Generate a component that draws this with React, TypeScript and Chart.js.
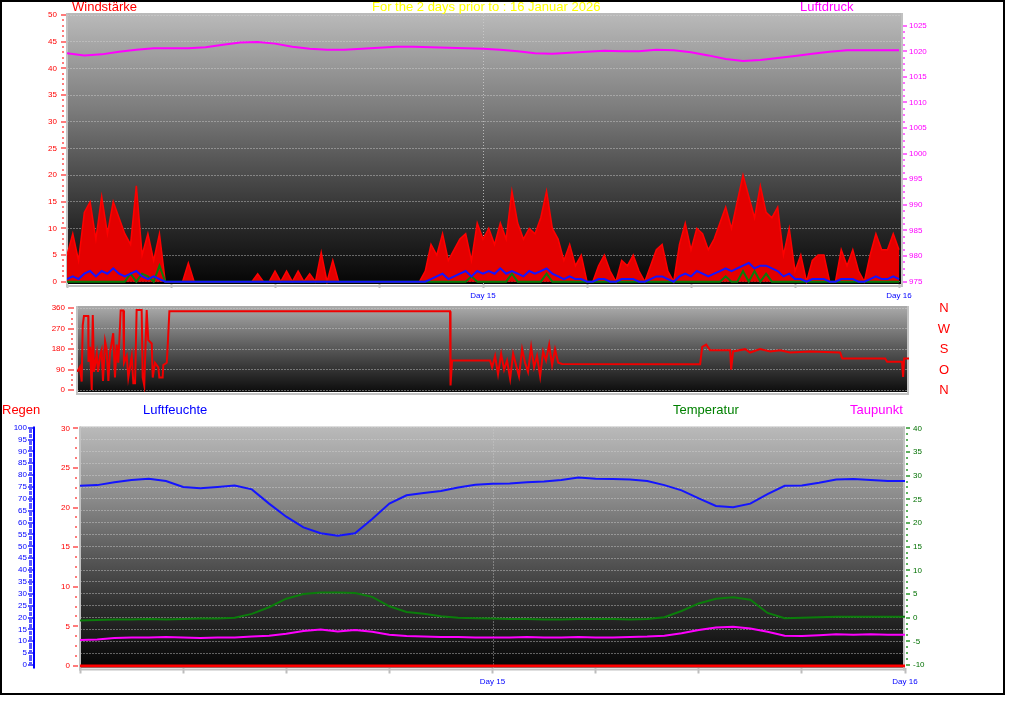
import { useEffect, useRef } from 'react';
import { Chart, registerables } from 'chart.js';

Chart.register(...registerables);

const FONT = 'Arial, "Liberation Sans", sans-serif';

// ---------------- texts ----------------
const titleText = 'For the 2 days prior to : 16 Januar 2026';

// ---------------- axes / ticks ----------------
const xTickHours = [0, 6, 12, 18, 24, 30, 36, 42, 48];
const dayLabelHours = [24, 48];
const dayLabels = ['Day 15', 'Day 16'];
const windTicks = [0, 5, 10, 15, 20, 25, 30, 35, 40, 45, 50];
const pressureTicks = [975, 980, 985, 990, 995, 1000, 1005, 1010, 1015, 1020, 1025];
const directionTicks = [0, 90, 180, 270, 360];
const directionLetters = ['N', 'O', 'S', 'W', 'N'];
const humidityTicks = [0, 5, 10, 15, 20, 25, 30, 35, 40, 45, 50, 55, 60, 65, 70, 75, 80, 85, 90, 95, 100];
const rainTicks = [0, 5, 10, 15, 20, 25, 30];
const temperatureTicks = [-10, -5, 0, 5, 10, 15, 20, 25, 30, 35, 40];

// ---------------- data: top panel ----------------
// hourly air pressure (hPa), hour 0..48
const pressureHpa = [
  1019.6, 1019.2, 1019.4, 1019.9, 1020.3, 1020.6, 1020.6, 1020.6, 1020.8, 1021.3,
  1021.7, 1021.8, 1021.5, 1020.9, 1020.5, 1020.3, 1020.3, 1020.5, 1020.7, 1020.9,
  1020.9, 1020.8, 1020.7, 1020.6, 1020.5, 1020.3, 1020.0, 1019.6, 1019.5, 1019.7,
  1019.9, 1020.1, 1020.0, 1020.0, 1020.3, 1020.2, 1019.8, 1019.2, 1018.5, 1018.1,
  1018.3, 1018.7, 1019.1, 1019.5, 1019.9, 1020.2, 1020.2, 1020.2, 1020.2,
];
// wind gusts, every 20 minutes (145 samples)
const windGust = [
  5, 9, 4, 13, 15, 8, 16, 9, 15, 12, 9, 7, 18, 5, 9, 4, 9,
  0, 0, 0, 0, 3.5, 0, 0, 0, 0, 0, 0, 0, 0, 0, 0, 0,
  1.5, 0, 0, 2, 0, 2, 0, 2, 0, 1.5, 0, 5.5, 0, 4, 0,
  0, 0, 0, 0, 0, 0, 0, 0, 0, 0, 0, 0, 0, 0, 2,
  7, 5, 9, 4, 6, 8, 9, 4, 11, 8, 10, 7, 11, 8, 17, 11, 8, 10, 9, 12, 17, 10, 8, 4, 7, 3, 5,
  0, 0, 3, 5, 2, 0, 4, 3, 5, 2, 0, 3, 6, 7, 2, 0,
  7, 11, 6, 10, 9, 6, 8, 11, 14, 10, 15, 20, 16, 12, 18, 13, 12, 14, 5, 10,
  2, 5, 0, 4, 5, 5, 0, 0, 6, 3, 6, 2, 0, 5, 9, 6, 6, 9, 6,
];
// average wind, every 20 minutes
const windAvg = [
  0.5, 1, 0.5, 1.5, 2, 1, 2, 1.5, 2.5, 1.5, 1, 1.5, 2, 1, 0.5, 1, 0.5,
  0, 0, 0, 0, 0, 0, 0, 0, 0, 0, 0, 0, 0, 0, 0, 0,
  0, 0, 0, 0, 0, 0, 0, 0, 0, 0, 0, 0, 0, 0, 0,
  0, 0, 0, 0, 0, 0, 0, 0, 0, 0, 0, 0, 0, 0, 0,
  0.5, 1, 1.5, 0.5, 1, 1.5, 2, 1, 2, 1.5, 2, 1.5, 2.5, 1.5, 2, 1.5, 1, 2, 1.5, 2, 2.5, 1.5, 1, 0.5, 1, 0.5, 0.5,
  0, 0, 0.5, 0.5, 0, 0, 0.5, 0.5, 0.5, 0, 0, 0.5, 1, 1, 0.5, 0,
  1, 1.5, 1, 2, 1.5, 1, 1.5, 2, 2.5, 2, 2.5, 3, 3.5, 2.5, 3, 3, 2.5, 2, 1, 1.5,
  0.5, 0.5, 0, 0.5, 0.5, 0.5, 0, 0, 0.5, 0.5, 0.5, 0, 0, 0.5, 1, 0.5, 0.5, 1, 0.5,
];
// green wind trace, every 20 minutes
const windGreen = [
  0, 0, 0, 0, 0, 0, 0, 0, 0, 0, 0, 1.5, 0, 1.5, 1, 0, 3,
  0, 0, 0, 0, 0, 0, 0, 0, 0, 0, 0, 0, 0, 0, 0, 0,
  0, 0, 0, 0, 0, 0, 0, 0, 0, 0, 0, 0, 0, 0, 0,
  0, 0, 0, 0, 0, 0, 0, 0, 0, 0, 0, 0, 0, 0, 0,
  0, 0, 0, 0, 0, 0, 0, 1, 0, 0, 0, 0, 0, 0, 1.5, 0, 0, 0, 0, 0, 1.5, 0, 0, 0, 0, 0, 0,
  0, 0, 0, 0, 0, 0, 0, 0, 0, 0, 0, 0, 0, 0, 0, 0,
  0, 0, 0, 0, 0, 0, 0, 0, 1, 0, 0, 2, 0, 2, 0, 1.5, 0, 0, 0, 0,
  0, 0, 0, 0, 0, 0, 0, 0, 0, 0, 0, 0, 0, 0, 0, 0, 0, 0, 0,
];

// ---------------- data: middle panel (wind direction) ----------------
const directionHours = [
  0.02, 0.17, 0.27, 0.33, 0.40, 0.65, 0.66, 0.75, 0.85, 0.91,
  0.98, 1.14, 1.21, 1.33, 1.42, 1.50, 1.62, 1.71, 1.81, 1.90,
  2.09, 2.19, 2.29, 2.38, 2.48, 2.52, 2.67, 2.71, 2.87, 2.96,
  3.16, 3.25, 3.35, 3.44, 3.73, 3.79, 3.88, 4.02, 4.11, 4.31,
  4.37, 4.50, 4.69, 4.75, 4.94, 4.98, 5.18, 5.23, 5.33, 21.52,
  21.55, 21.64, 23.83, 23.95, 24.12, 24.29, 24.47, 24.64, 24.81, 24.99,
  25.16, 25.33, 25.50, 25.68, 25.85, 26.02, 26.20, 26.37, 26.54, 26.72,
  26.89, 27.06, 27.24, 27.41, 27.58, 27.76, 27.99, 35.95, 36.07, 36.30,
  36.53, 37.68, 37.74, 37.85, 38.55, 38.83, 39.41, 39.99, 40.57, 41.14,
  42.30, 44.03, 44.15, 46.62, 46.74, 47.60, 47.66, 47.72, 48.00,
];
const directionDeg = [
  80, 102, 37, 285, 326, 326, 124, 190, 0, 330,
  80, 160, 80, 150, 175, 40, 215, 180, 40, 160,
  250, 55, 200, 120, 277, 350, 350, 120, 150, 55,
  150, 30, 30, 352, 352, 55, 20, 352, 220, 205,
  55, 120, 100, 55, 55, 110, 120, 190, 347, 347,
  20, 130, 130, 100, 150, 70, 160, 90, 130, 50,
  160, 110, 60, 180, 120, 80, 190, 100, 150, 60,
  170, 130, 200, 110, 180, 120, 115, 114, 190, 200,
  175, 175, 90, 170, 180, 165, 180, 170, 175, 165,
  170, 165, 139, 139, 124, 124, 58, 139, 139,
];

// ---------------- data: bottom panel (hourly, hour 0..48) ----------------
const humidityPct = [
  75.5, 75.8, 77, 78, 78.5, 77.5, 75, 74.5, 75, 75.6,
  74, 68, 62.5, 58, 55.5, 54.5, 55.5, 61.5, 68, 71.5,
  72.5, 73.3, 74.8, 76, 76.4, 76.5, 77, 77.3, 78, 79,
  78.5, 78.4, 78.2, 77.5, 75.8, 73.6, 70.2, 67, 66.5, 68,
  72, 75.5, 75.6, 76.8, 78.2, 78.4, 78, 77.5, 77.5,
];
const temperatureC = [
  -0.6, -0.5, -0.4, -0.4, -0.3, -0.4, -0.3, -0.2, -0.2, 0.0,
  0.8, 2.2, 4.0, 5.0, 5.3, 5.3, 5.2, 4.4, 2.4, 1.2,
  0.8, 0.3, 0.0, -0.1, -0.2, -0.3, -0.3, -0.4, -0.4, -0.3,
  -0.3, -0.3, -0.4, -0.3, 0.1, 1.4, 3.0, 4.0, 4.3, 3.8,
  1.0, -0.1, 0.0, 0.1, 0.2, 0.2, 0.2, 0.2, 0.2,
];
const dewPointC = [
  -4.7, -4.6, -4.3, -4.2, -4.2, -4.1, -4.2, -4.3, -4.2, -4.2,
  -4.0, -3.8, -3.4, -2.8, -2.5, -2.9, -2.6, -3.0, -3.6, -3.9,
  -4.0, -4.1, -4.1, -4.2, -4.2, -4.2, -4.1, -4.2, -4.2, -4.1,
  -4.2, -4.2, -4.1, -4.0, -3.8, -3.3, -2.6, -2.1, -1.9, -2.3,
  -3.0, -3.8, -3.9, -3.7, -3.5, -3.6, -3.5, -3.6, -3.6,
];
const rainHours = [0, 48];
const rainMm = [0, 0];

// ---------------- helpers ----------------
const hourly = (vals: number[]) => vals.map((y, i) => ({ x: i, y }));
const every20min = (vals: number[]) => vals.map((y, i) => ({ x: i / 3, y }));
const paired = (xs: number[], ys: number[]) => xs.map((x, i) => ({ x, y: ys[i] }));

function zeroPad(s: any) {
  s.paddingTop = 0;
  s.paddingBottom = 0;
  s.paddingLeft = 0;
  s.paddingRight = 0;
}

function xScale(max: number, height: number, tickLen: number, padding: number, display = true) {
  return {
    type: 'linear',
    position: 'bottom',
    min: 0,
    max,
    display,
    afterFit: (s: any) => { s.height = height; zeroPad(s); },
    afterBuildTicks: (s: any) => { s.ticks = xTickHours.map((value) => ({ value })); },
    ticks: {
      color: '#0000ff',
      font: { family: FONT, size: 8 },
      padding,
      autoSkip: false,
      maxRotation: 0,
      minRotation: 0,
      callback: (v: number) => {
        const k = dayLabelHours.indexOf(v);
        return k >= 0 ? dayLabels[k] : '';
      },
    },
    grid: { drawOnChartArea: false, drawTicks: true, tickLength: tickLen, tickColor: '#bdbdbd', tickWidth: 2 },
    border: { display: false },
  };
}

function yScale(o: any) {
  return {
    type: 'linear',
    position: o.pos,
    min: o.min,
    max: o.max,
    weight: o.weight || 0,
    afterFit: (s: any) => { s.width = o.width; zeroPad(s); },
    afterBuildTicks: (s: any) => { s.ticks = o.ticks.map((value: number) => ({ value })); },
    ticks: {
      color: o.color,
      font: { family: FONT, size: 8 },
      padding: o.padding,
      autoSkip: false,
      callback: (v: number) => String(v),
    },
    grid: o.grid
      ? { drawOnChartArea: true, drawTicks: false, color: 'rgba(215,215,215,0.42)', lineWidth: 1 }
      : { drawOnChartArea: false, drawTicks: false },
    border: { display: false, dash: [2, 1] },
  };
}

function panelPlugin(cfg: any) {
  return {
    id: 'panel' + cfg.name,
    beforeDraw(chart: any) {
      const { ctx, chartArea: a } = chart;
      ctx.save();
      const g = ctx.createLinearGradient(0, a.top, 0, a.bottom);
      for (const [off, col] of cfg.gradient) g.addColorStop(off, col);
      ctx.fillStyle = g;
      ctx.fillRect(a.left, a.top, a.right - a.left, a.bottom - a.top);
      ctx.restore();
    },
    beforeDatasetsDraw(chart: any) {
      const { ctx, chartArea: a, scales } = chart;
      ctx.save();
      ctx.fillStyle = '#c2c2c2';
      ctx.fillRect(a.left - 1, a.top, 2, a.bottom - a.top + 3);
      ctx.fillRect(a.left - 1, a.bottom + 1, a.right - a.left + 1, 2);
      ctx.fillRect(a.right - 2, a.top, 2, a.bottom - a.top + 3);
      if (cfg.dayLine != null) {
        const x = Math.round(scales.x.getPixelForValue(cfg.dayLine)) + 0.5;
        ctx.strokeStyle = 'rgba(205,205,205,0.8)';
        ctx.lineWidth = 1;
        ctx.setLineDash([1, 2]);
        ctx.beginPath();
        ctx.moveTo(x, a.top);
        ctx.lineTo(x, a.bottom);
        ctx.stroke();
      }
      ctx.restore();
    },
    afterDraw(chart: any) {
      const { ctx, scales } = chart;
      ctx.save();
      for (const m of cfg.marks || []) {
        const s = scales[m.id];
        const values = s.ticks.map((t: any) => t.value);
        ctx.fillStyle = m.color;
        for (const v of values) {
          const y = Math.round(s.getPixelForValue(v));
          ctx.fillRect(m.major[0], y - 1, m.major[1] - m.major[0], 2);
        }
        const lo = values[0];
        const hi = values[values.length - 1];
        for (let v = lo; v <= hi + 1e-6; v += m.minorStep) {
          if (values.some((t: number) => Math.abs(t - v) < 1e-6)) continue;
          const y = Math.round(s.getPixelForValue(v));
          ctx.fillRect(m.minor[0], y - 1, m.minor[1] - m.minor[0], 2);
        }
        if (m.spine) {
          ctx.fillStyle = m.spine.color;
          ctx.fillRect(m.spine.x, s.top, m.spine.w, s.bottom - s.top + 1);
        }
      }
      if (cfg.letters) {
        const L = cfg.letters;
        const s = scales[L.id];
        ctx.fillStyle = L.color;
        ctx.font = '13px ' + FONT;
        ctx.textAlign = 'center';
        ctx.textBaseline = 'middle';
        L.values.forEach((v: number, i: number) => {
          ctx.fillText(L.labels[i], L.x, s.getPixelForValue(v) + 0.5);
        });
      }
      ctx.restore();
    },
  };
}

const baseOptions = (padding: any, scales: any) => ({
  responsive: false,
  animation: false,
  events: [],
  layout: { autoPadding: false, padding },
  elements: { point: { radius: 0 }, line: { tension: 0 } },
  plugins: { legend: { display: false }, tooltip: { enabled: false } },
  scales,
});

function buildTop(): any {
  return {
    type: 'line',
    data: {
      datasets: [
        { data: every20min(windAvg), borderColor: '#1414ff', borderWidth: 2, yAxisID: 'y' },
        { data: every20min(windGreen), borderColor: '#0b7d0b', borderWidth: 2, yAxisID: 'y' },
        { data: every20min(windGust), borderColor: '#ff0000', backgroundColor: '#e40000', fill: 'origin', borderWidth: 1.5, yAxisID: 'y' },
        { data: hourly(pressureHpa), borderColor: '#ff00ff', borderWidth: 2, yAxisID: 'yP' },
      ],
    },
    options: baseOptions({ top: 13, left: 0, right: 0, bottom: 0 }, {
      x: xScale(48.23, 21, 4, 3),
      y: yScale({ pos: 'left', min: -0.43, max: 50.4, ticks: windTicks, width: 67, color: '#ff0000', padding: 10, grid: true }),
      yP: yScale({ pos: 'right', min: 974.55, max: 1027.48, ticks: pressureTicks, width: 121, color: '#ff00ff', padding: 6 }),
    }),
    plugins: [panelPlugin({
      name: 'top',
      gradient: [[0, '#bababa'], [0.35, '#7d7d7d'], [0.55, '#555555'], [0.78, '#2a2a2a'], [1, '#050505']],
      dayLine: 24,
      marks: [
        { id: 'y', major: [61, 66], minor: [62, 64], minorStep: 1, color: '#ff7b7b' },
        { id: 'yP', major: [903, 907], minor: [903, 905], minorStep: 1.25, color: '#ff6cff' },
      ],
    })],
  };
}

function buildMiddle(): any {
  return {
    type: 'line',
    data: {
      datasets: [
        { data: paired(directionHours, directionDeg), borderColor: '#f00000', borderWidth: 2, yAxisID: 'y' },
      ],
    },
    options: baseOptions({ top: 4, left: 0, right: 115, bottom: 10 }, {
      x: xScale(48, 0, 0, 0, false),
      y: yScale({ pos: 'left', min: -8.8, max: 370.1, ticks: directionTicks, width: 77, color: '#ff0000', padding: 12, grid: true }),
    }),
    plugins: [panelPlugin({
      name: 'mid',
      gradient: [[0, '#ababab'], [0.5, '#575757'], [1, '#0c0c0c']],
      marks: [{ id: 'y', major: [68, 74], minor: [71, 73], minorStep: 22.5, color: '#ff7b7b' }],
      letters: { id: 'y', x: 944, values: directionTicks, labels: directionLetters, color: '#ff0000' },
    })],
  };
}

function buildBottom(): any {
  return {
    type: 'line',
    data: {
      datasets: [
        { data: paired(rainHours, rainMm), borderColor: '#ff0000', borderWidth: 3, yAxisID: 'yR' },
        { data: hourly(dewPointC), borderColor: '#ff00ff', borderWidth: 2, yAxisID: 'yT' },
        { data: hourly(temperatureC), borderColor: '#0b7d0b', borderWidth: 2, yAxisID: 'yT' },
        { data: hourly(humidityPct), borderColor: '#1414ff', borderWidth: 2, yAxisID: 'yH' },
      ],
    },
    options: baseOptions({ top: 24.5, left: 0, right: 0, bottom: 0 }, {
      x: xScale(48, 37.5, 6, 3),
      yH: yScale({ pos: 'left', min: -1.05, max: 100.5, ticks: humidityTicks, width: 35, color: '#0000ff', padding: 8, grid: true, weight: 10 }),
      yR: yScale({ pos: 'left', min: -0.19, max: 30.23, ticks: rainTicks, width: 45, color: '#ff0000', padding: 10, weight: 0 }),
      yT: yScale({ pos: 'right', min: -10.53, max: 40.38, ticks: temperatureTicks, width: 119, color: '#007000', padding: 8 }),
    }),
    plugins: [panelPlugin({
      name: 'bot',
      gradient: [[0, '#bababa'], [0.3, '#8a8a8a'], [0.52, '#5c5c5c'], [0.75, '#2e2e2e'], [1, '#050505']],
      dayLine: 24,
      marks: [
        { id: 'yH', major: [28, 33], minor: [29, 32], minorStep: 1, color: '#5a5aff', spine: { x: 33, w: 2, color: '#0000ff' } },
        { id: 'yR', major: [73, 78], minor: [75, 77], minorStep: 1.25, color: '#ff7b7b' },
        { id: 'yT', major: [906, 910], minor: [906, 908], minorStep: 1.25, color: '#5fb05f' },
      ],
    })],
  };
}

function ChartCanvas({ left, top, width, height, build }: any) {
  const ref = useRef<HTMLCanvasElement>(null);
  useEffect(() => {
    const chart = new Chart(ref.current as HTMLCanvasElement, build());
    return () => chart.destroy();
  }, []);
  return (
    <canvas
      ref={ref}
      width={width}
      height={height}
      style={{ position: 'absolute', left, top, width, height, display: 'block' }}
    />
  );
}

const label = (text: string, left: number, top: number, color: string) => (
  <div
    style={{
      position: 'absolute', left, top, color, font: '13px ' + FONT, lineHeight: '15px',
      whiteSpace: 'nowrap', zIndex: 3,
    }}
  >
    {text}
  </div>
);

export default function App() {
  return (
    <div style={{ position: 'absolute', left: 0, top: 0, width: 1024, height: 705, background: '#ffffff', overflow: 'hidden' }}>
      <ChartCanvas left={0} top={0} width={1024} height={305} build={buildTop} />
      <ChartCanvas left={0} top={302} width={1024} height={100} build={buildMiddle} />
      <ChartCanvas left={0} top={402} width={1024} height={303} build={buildBottom} />
      <div
        style={{
          position: 'absolute', left: 0, top: 0, width: 1005, height: 695,
          border: '2px solid #000', boxSizing: 'border-box', pointerEvents: 'none', zIndex: 2,
        }}
      />
      {label('Windstärke', 72, -1, '#ff0000')}
      {label(titleText, 372, -1, '#ffff00')}
      {label('Luftdruck', 800, -1, '#ff00ff')}
      {label('Regen', 2, 402, '#ff0000')}
      {label('Luftfeuchte', 143, 402, '#0000ff')}
      {label('Temperatur', 673, 402, '#008000')}
      {label('Taupunkt', 850, 402, '#ff00ff')}
    </div>
  );
}
